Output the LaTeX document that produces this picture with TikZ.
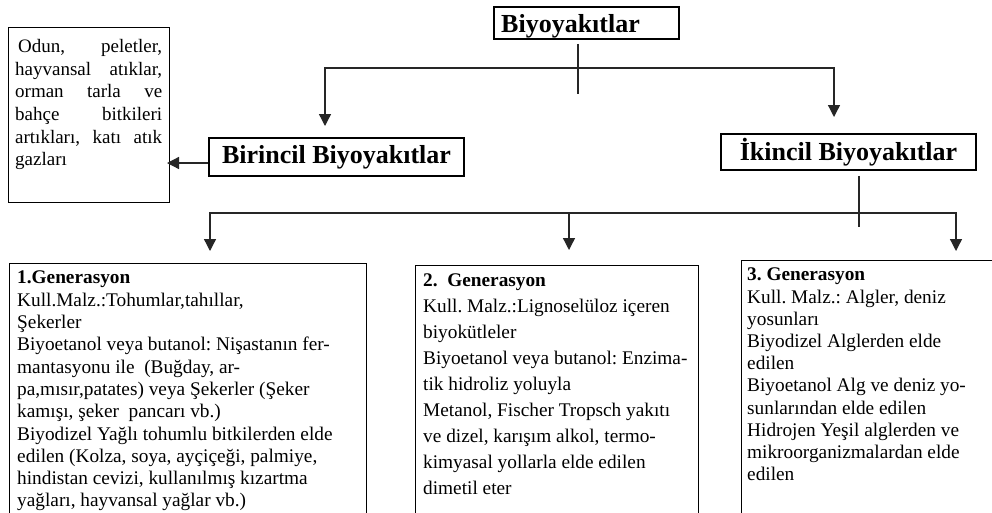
\documentclass[tikz,border=0pt]{standalone}
\usepackage{fontspec}
\setmainfont{Liberation Serif}
\usetikzlibrary{arrows.meta}
\newcommand\jline[2][147pt]{\makebox[#1][s]{#2}}
\frenchspacing
\begin{document}
\begin{tikzpicture}[x=1pt,y=-1pt,
  titlebox/.style={draw, line width=1.8pt, inner sep=0pt, font=\fontsize{26}{30}\selectfont\bfseries},
  titletext/.style={inner sep=0pt, font=\fontsize{26}{30}\selectfont\bfseries},
  genbox/.style={draw, line width=1.4pt, inner sep=0pt, anchor=north west},
  txt/.style={inner sep=0pt, anchor=north west, align=left},
  conn/.style={line width=1.3pt, black!85},
  arr/.style={conn, -{Triangle[width=12pt,length=12pt]}},
  arrb/.style={conn, {Triangle[width=12pt,length=12pt]}-{Triangle[width=12pt,length=12pt]}}]
\useasboundingbox (0,0) rectangle (992,512);
\clip (0,0) rectangle (992,512);
\fill[white] (0,0) rectangle (992,512);

% title boxes
\node[titlebox, minimum width=185pt, minimum height=32pt, anchor=north west] (bio) at (493,6) {};
\node[titletext, anchor=base west] (biot) at (501,32) {Biyoyakıtlar};
\node[titlebox, minimum width=255pt, minimum height=38pt] (bir) at (336.5,157) {Birincil Biyoyakıtlar};
\node[titlebox, minimum width=255pt, minimum height=36pt] (ikn) at (848.5,152) {İkincil Biyoyakıtlar};

% left box
\node[genbox, minimum width=161pt, minimum height=175pt] (lbox) at (8,27) {};
\node[txt, font=\fontsize{19}{22.7}\selectfont] (ltxt) at ([xshift=7pt,yshift=-12pt]lbox.north west)
  {\hspace*{3pt}\jline[144pt]{Odun, peletler,}\\
   \jline{hayvansal atıklar,}\\
   \jline{orman tarla ve}\\
   \jline{bahçe bitkileri}\\
   \jline{artıkları, katı atık}\\
   gazları};

% generation boxes
\node[genbox, minimum width=357pt, minimum height=280pt] (g1) at (9,263) {};
\node[genbox, minimum width=283pt, minimum height=280pt] (g2) at (415,265) {};
\node[genbox, minimum width=270pt, minimum height=280pt] (g3) at (741,260) {};

\node[txt, font=\fontsize{19.3}{22.3}\selectfont] (g1t) at ([xshift=8pt,yshift=-8pt]g1.north west)
  {\textbf{1.Generasyon}\\
   Kull.Malz.:Tohumlar,tahıllar,\\
   Şekerler\\
   Biyoetanol veya butanol: Nişastanın fer-\\
   mantasyonu ile~~(Buğday, ar-\\
   pa,mısır,patates) veya Şekerler (Şeker\\
   kamışı, şeker~~pancarı vb.)\\
   Biyodizel Yağlı tohumlu bitkilerden elde\\
   edilen (Kolza, soya, ayçiçeği, palmiye,\\
   hindistan cevizi, kullanılmış kızartma\\
   yağları, hayvansal yağlar vb.)};

\node[txt, font=\fontsize{19.3}{25.9}\selectfont] (g2t) at ([xshift=8pt,yshift=-9pt]g2.north west)
  {\textbf{2.~~Generasyon}\\
   Kull. Malz.:Lignoselüloz içeren\\
   biyokütleler\\
   Biyoetanol veya butanol: Enzima-\\
   tik hidroliz yoluyla\\
   Metanol, Fischer Tropsch yakıtı\\
   ve dizel, karışım alkol, termo-\\
   kimyasal yollarla elde edilen\\
   dimetil eter};

\node[txt, font=\fontsize{19.3}{22.2}\selectfont] (g3t) at ([xshift=6pt,yshift=-8pt]g3.north west)
  {\textbf{3. Generasyon}\\
   Kull. Malz.: Algler, deniz\\
   yosunları\\
   Biyodizel Alglerden elde\\
   edilen\\
   Biyoetanol Alg ve deniz yo-\\
   sunlarından elde edilen\\
   Hidrojen Yeşil alglerden ve\\
   mikroorganizmalardan elde\\
   edilen};

% top tree
\coordinate (tL) at (325,126);
\coordinate (jL) at (325,68);
\coordinate (jR) at (834,68);
\coordinate (tR) at (834,117);
\coordinate (bioDown) at (578,94);
\draw[conn] (bio.south -| bioDown) ++(0,4) -- (bioDown);
\draw[arrb] (tL) -- (jL) -- (jR) -- (tR);

% Birincil -> left box
\coordinate (lTip) at (167,163);
\draw[arr] (bir.west |- lTip) -- (lTip);

% bottom tree
\coordinate (ikDown) at (859,227);
\draw[conn] (ikn.south -| ikDown) ++(0,5) -- (ikDown);
\coordinate (b1) at (210,251);
\coordinate (k1) at (210,213);
\coordinate (k3) at (956,213);
\coordinate (b3) at (956,251);
\coordinate (k2) at (569,213);
\coordinate (b2) at (569,250);
\draw[arrb] (b1) -- (k1) -- (k3) -- (b3);
\draw[arr] (k2) -- (b2);
\end{tikzpicture}
\end{document}
